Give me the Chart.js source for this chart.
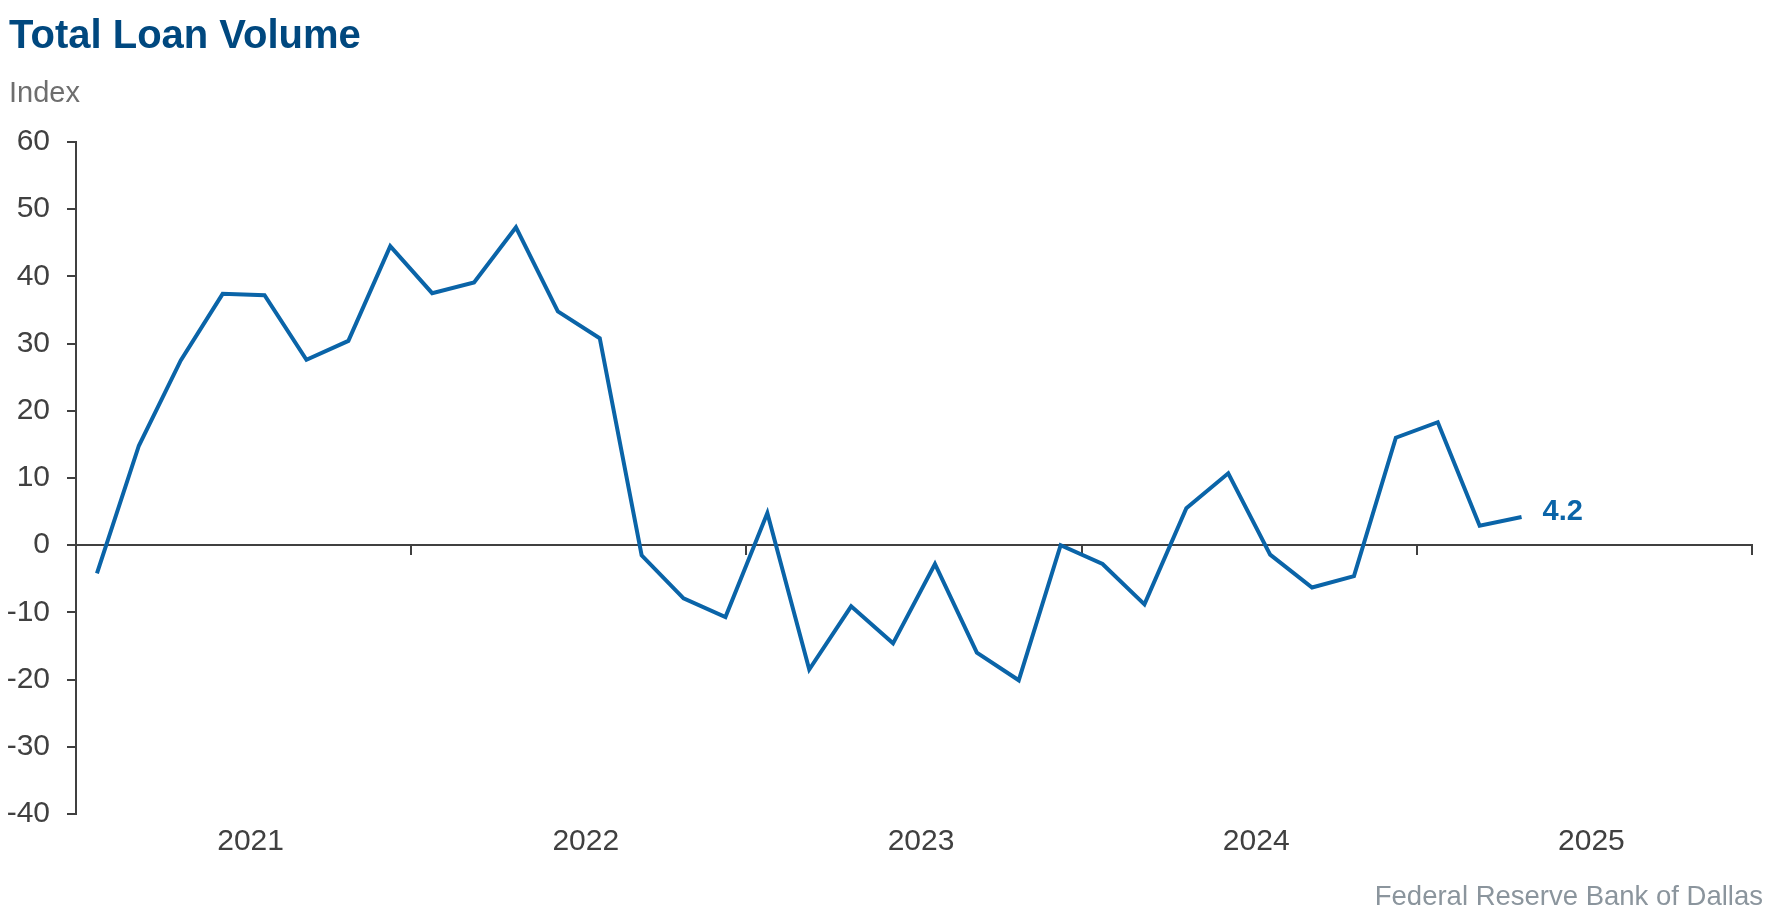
<!DOCTYPE html>
<html>
<head>
<meta charset="utf-8">
<title>Total Loan Volume</title>
<script src="https://cdn.jsdelivr.net/npm/chart.js@4.4.1/dist/chart.umd.min.js"></script>
<style>
    body { margin: 0; background: #fff; font-family: "Liberation Sans", Arial, sans-serif; }
    #wrap { position: relative; width: 1778px; height: 923px; }
    #chartCanvas { position: absolute; left: 0; top: 0; }
    .title { position: absolute; left: 9px; top: 14px; font-size: 40px; line-height: 1; font-weight: bold; color: #00487f; white-space: nowrap; }
    .unit { position: absolute; left: 9px; top: 78px; font-size: 29px; line-height: 1; color: #6e6e6e; }
    .source { position: absolute; right: 15px; top: 882px; font-size: 27.5px; line-height: 1; color: #8b959d; white-space: nowrap; }
</style>
</head>
<body>
<div id="wrap">
    <canvas id="chartCanvas" width="1778" height="923"></canvas>
    <div class="title">Total Loan Volume</div>
    <div class="unit">Index</div>
    <div class="source">Federal Reserve Bank of Dallas</div>
</div>
<script>
// survey is run every six weeks, so 8 readings per year
const years = ["2021", "2022", "2023", "2024", "2025"];
const surveysPerYear = 8;
const loanVolume = [
    -4.2, 14.8, 27.5, 37.4, 37.2, 27.6, 30.4, 44.5,
    37.5, 39.1, 47.3, 34.8, 30.8, -1.5, -7.9, -10.7,
    4.8, -18.5, -9.1, -14.6, -2.8, -16.0, -20.1, 0.0,
    -2.8, -8.8, 5.5, 10.7, -1.4, -6.3, -4.6, 16.0,
    18.3, 2.9, 4.2
];
const yMin = -40;
const yMax = 60;
const yStep = 10;

const lineColor = "#0a64a8";
const axisColor = "#404040";
const tickFont = { family: "'Liberation Sans', Arial, sans-serif", size: 30 };

// points sit in the middle of their six-week slot
const points = loanVolume.map((v, i) => ({ x: i + 0.5, y: v }));

// write the latest value next to the end of the line
const lastValueLabel = {
    id: "lastValueLabel",
    afterDatasetsDraw(chart) {
        const meta = chart.getDatasetMeta(0);
        const last = meta.data[meta.data.length - 1];
        const ctx = chart.ctx;
        ctx.save();
        ctx.font = "bold 29px 'Liberation Sans', Arial, sans-serif";
        ctx.fillStyle = lineColor;
        ctx.textAlign = "left";
        ctx.textBaseline = "middle";
        ctx.fillText(loanVolume[loanVolume.length - 1].toFixed(1), last.x + 21, last.y - 5);
        ctx.restore();
    }
};

const ctx = document.getElementById("chartCanvas");
new Chart(ctx, {
    type: "line",
    data: {
        datasets: [{
            label: "Total Loan Volume",
            data: points,
            borderColor: lineColor,
            borderWidth: 4,
            pointRadius: 0,
            tension: 0,
            fill: false
        }]
    },
    options: {
        responsive: false,
        maintainAspectRatio: false,
        animation: false,
        layout: { padding: { top: 142, right: 26, bottom: 49, left: 0 } },
        plugins: {
            legend: { display: false },
            tooltip: { enabled: false }
        },
        scales: {
            x: {
                type: "linear",
                min: 0,
                max: years.length * surveysPerYear,
                position: { y: 0 },
                ticks: { stepSize: surveysPerYear, display: false },
                grid: { drawOnChartArea: false, drawTicks: true, tickLength: 9, color: axisColor, lineWidth: 2 },
                border: { display: true, color: axisColor, width: 2 }
            },
            years: {
                type: "category",
                labels: years,
                position: "bottom",
                offset: true,
                grid: { display: false, drawTicks: false },
                border: { display: false },
                ticks: { color: axisColor, font: tickFont, padding: 10, labelOffset: 7, maxRotation: 0, autoSkip: false },
                afterFit: (scale) => { scale.height = 60; }
            },
            y: {
                min: yMin,
                max: yMax,
                ticks: { stepSize: yStep, color: axisColor, font: tickFont, padding: 17 },
                grid: { drawOnChartArea: false, tickLength: 9, color: axisColor, lineWidth: 2 },
                border: { display: true, color: axisColor, width: 2 },
                afterFit: (scale) => { scale.width = 76; }
            }
        }
    },
    plugins: [lastValueLabel]
});
</script>
</body>
</html>
